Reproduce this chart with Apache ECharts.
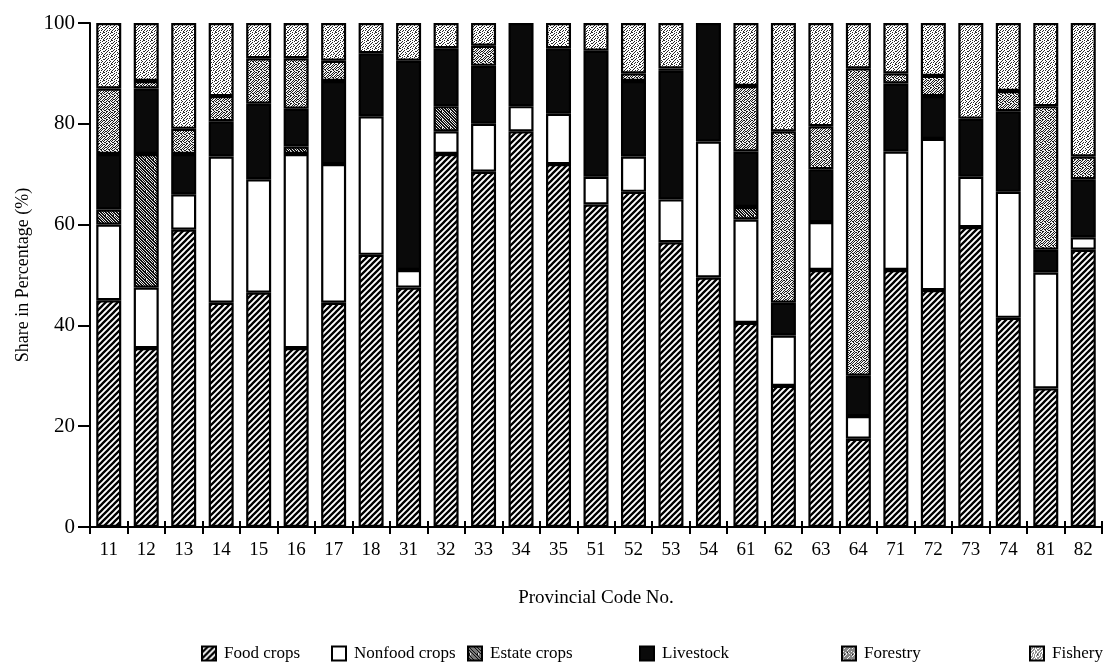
<!DOCTYPE html>
<html>
<head>
<meta charset="utf-8">
<script src="https://cdn.jsdelivr.net/npm/echarts@6/dist/echarts.min.js"></script>
<style>
  html, body { margin: 0; padding: 0; background: #fff; }
  #chart { width: 1107px; height: 665px; }
</style>
</head>
<body>
<div id="chart"></div>
<script>
// ---- Data ----
const categories = ['11','12','13','14','15','16','17','18','31','32','33','34','35','51','52','53','54','61','62','63','64','71','72','73','74','81','82'];
const yTicks = [0, 20, 40, 60, 80, 100];
const foodCrops    = [45, 35.5, 59, 44.5, 46.5, 35.5, 44.5, 54, 47.5, 74, 70.5, 78.5, 72, 64, 66.5, 56.5, 49.5, 40.5, 28, 51, 17.5, 51, 47, 59.5, 41.5, 27.5, 55];
const nonfoodCrops = [15, 12, 7, 29, 22.5, 38.5, 27.5, 27.5, 3.5, 4.5, 9.5, 5, 10, 5.5, 7, 8.5, 27, 20.5, 10, 9.5, 4.5, 23.5, 30, 10, 25, 23, 2.5];
const estateCrops  = [3, 26.5, 0, 0, 0, 1.5, 0, 0, 0, 5, 0, 0, 0, 0, 0, 0, 0, 2.5, 0, 0, 0, 0, 0, 0, 0, 0, 0];
const livestock    = [11, 13, 8, 7, 15, 7.5, 16.5, 12.5, 41.5, 11.5, 11.5, 16.5, 13, 25, 15, 25.5, 23.5, 11, 6.5, 10.5, 8, 13.5, 8.5, 11.5, 16, 4.5, 11.5];
const forestry     = [13, 1.5, 5, 5, 9, 10, 4, 0, 0, 0, 4, 0, 0, 0, 1.5, 0.5, 0, 13, 34, 8.5, 61, 2, 4, 0, 4, 28.5, 4.5];
const fishery      = [13, 11.5, 21, 14.5, 7, 7, 7.5, 6, 7.5, 5, 4.5, 0, 5, 5.5, 10, 9, 0, 12.5, 21.5, 20.5, 9, 10, 10.5, 19, 13.5, 16.5, 26.5];
const seriesNames = ['Food crops', 'Nonfood crops', 'Estate crops', 'Livestock', 'Forestry', 'Fishery'];

// ---- Fill patterns ----
function makeCanvas(size, draw) {
  const c = document.createElement('canvas');
  c.width = size; c.height = size;
  const ctx = c.getContext('2d');
  draw(ctx, size);
  return c;
}
const hatch = makeCanvas(6, (ctx, s) => {
  ctx.fillStyle = '#fff'; ctx.fillRect(0, 0, s, s);
  ctx.strokeStyle = '#000'; ctx.lineWidth = 2.3;
  ctx.beginPath();
  ctx.moveTo(-1, s + 1); ctx.lineTo(s + 1, -1);
  ctx.moveTo(-1, 1); ctx.lineTo(1, -1);
  ctx.moveTo(s - 1, s + 1); ctx.lineTo(s + 1, s - 1);
  ctx.stroke();
});
// stipple textures (8x8 masks, 1 = dark dot)
function stipple(rows, dark, light) {
  return makeCanvas(8, (ctx) => {
    rows.forEach((row, y) => {
      for (let x = 0; x < 8; x++) {
        ctx.fillStyle = row[x] === '1' ? dark : light;
        ctx.fillRect(x, y, 1, 1);
      }
    });
  });
}
const estatePat = stipple([
  '11010110', '01101011', '10110101', '11011010',
  '01101101', '10110110', '01011011', '11001101'], '#111', '#e6e6e6');
const forestPat = stipple([
  '10100101', '01001010', '10010100', '01101001',
  '10010010', '00101101', '11000100', '00110010'], '#1a1a1a', '#f0f0f0');
const fishPat = stipple([
  '10001001', '00100010', '01001000', '10010001',
  '00100100', '01000010', '10010100', '00100001'], '#2a2a2a', '#ffffff');

const fills = [
  { image: hatch, repeat: 'repeat' },
  '#ffffff',
  { image: estatePat, repeat: 'repeat' },
  '#0a0a0a',
  { image: forestPat, repeat: 'repeat' },
  { image: fishPat, repeat: 'repeat' }
];
const dataSets = [foodCrops, nonfoodCrops, estateCrops, livestock, forestry, fishery];

const FONT = 'Liberation Serif';

const series = seriesNames.map((name, i) => ({
  name: name,
  type: 'bar',
  stack: 'total',
  barWidth: 25,
  data: dataSets[i].map(v => (v === 0 ? '-' : v)),
  itemStyle: { color: fills[i], borderColor: '#000', borderWidth: 2.2 },
  emphasis: { disabled: true },
  animation: false
}));

const legendLefts = [196, 326, 462, 634, 836, 1024];
const legends = seriesNames.map((name, i) => ({
  data: [name],
  left: legendLefts[i],
  top: 640,
  itemWidth: 14,
  itemHeight: 14,
  icon: 'rect',
  selectedMode: false,
  textStyle: { fontFamily: FONT, fontSize: 17, color: '#000', padding: [0, 0, 0, 3] }
}));

const chart = echarts.init(document.getElementById('chart'), null, { renderer: 'canvas' });
chart.setOption({
  backgroundColor: '#fff',
  animation: false,
  legend: legends,
  grid: { left: 90, right: 5, top: 23, bottom: 138, containLabel: false },
  xAxis: [{
    type: 'category',
    data: categories,
    name: 'Provincial Code No.',
    nameLocation: 'middle',
    nameGap: 62,
    nameTextStyle: { fontFamily: FONT, fontSize: 19, color: '#000' },
    axisLine: { lineStyle: { color: '#000', width: 2 } },
    axisTick: { show: true, length: 7, lineStyle: { color: '#000', width: 2 } },
    axisLabel: { fontFamily: FONT, fontSize: 19, color: '#000', margin: 14 }
  }, {
    type: 'category',
    data: categories,
    position: 'bottom',
    offset: 0,
    axisLine: { show: false },
    axisTick: { show: true, inside: true, length: 6, lineStyle: { color: '#000', width: 2 } },
    axisLabel: { show: false }
  }],
  yAxis: {
    type: 'value',
    min: yTicks[0],
    max: yTicks[yTicks.length - 1],
    interval: 20,
    name: 'Share in Percentage (%)',
    nameLocation: 'middle',
    nameGap: 53,
    nameTextStyle: { fontFamily: FONT, fontSize: 18, color: '#000' },
    axisLine: { show: true, lineStyle: { color: '#000', width: 2 } },
    axisTick: { show: true, length: 12, lineStyle: { color: '#000', width: 2 } },
    axisLabel: { fontFamily: FONT, fontSize: 21, color: '#000', margin: 15 },
    splitLine: { show: false }
  },
  series: series
});
</script>
</body>
</html>
